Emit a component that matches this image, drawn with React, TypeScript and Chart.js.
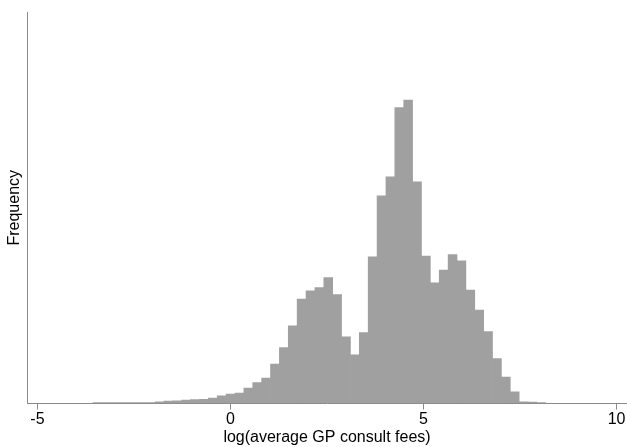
import React, { useEffect, useRef } from "react";
import { Chart, registerables } from "chart.js";

Chart.register(...registerables);

// Histogram bins (log of average GP consult fees)
const binStart = -3.563;
const binWidth = 0.23;
const frequency = [
  0.8, 0.8, 0.8, 0.8, 0.8, 0.8, 1.0, 1.7, 2.3, 2.6,
  3.3, 4.0, 4.2, 5.5, 7.7, 9.5, 10.5, 15.3, 21.0, 25.3,
  39.5, 56.0, 77.6, 104.3, 112.6, 116.0, 126.0, 109.0, 66.6, 48.7,
  71.0, 146.7, 207.7, 226.7, 296.0, 303.3, 221.7, 147.3, 120.7, 133.3,
  149.0, 142.7, 113.3, 93.3, 72.0, 45.0, 26.3, 11.7, 1.7, 1.3,
  1.0,
];
const xTicks = [-5, 0, 5, 10];
const xMin = -5.27;
const xMax = 10.27;
const yMax = 391.5;

const FONT = "'Liberation Sans', Arial, sans-serif";
const AXIS = "#8a8a8a";

export default function App() {
  const ref = useRef<HTMLCanvasElement | null>(null);

  useEffect(() => {
    document.body.style.margin = "0";
    const canvas = ref.current;
    if (!canvas) return;
    const points = frequency.map((f, i) => ({
      x: binStart + (i + 0.5) * binWidth,
      y: f,
    }));
    const chart = new Chart(canvas, {
      type: "bar",
      data: {
        datasets: [
          {
            data: points as any,
            backgroundColor: "#a0a0a0",
            borderWidth: 0,
            barPercentage: 1,
            categoryPercentage: 1,
          },
        ],
      },
      options: {
        responsive: false,
        animation: false,
        devicePixelRatio: 1,
        layout: { padding: { top: 12, right: 0, bottom: 0, left: 0 } },
        plugins: {
          legend: { display: false },
          tooltip: { enabled: false },
        },
        scales: {
          x: {
            type: "linear",
            min: xMin,
            max: xMax,
            offset: false,
            grid: {
              display: true,
              offset: false,
              drawOnChartArea: false,
              drawTicks: true,
              tickLength: 6,
              color: AXIS,
            },
            border: { display: true, color: AXIS, width: 1 },
            ticks: {
              color: "#000",
              padding: 0,
              maxRotation: 0,
              font: { family: FONT, size: 16 },
            },
            afterBuildTicks: (scale: any) => {
              scale.ticks = xTicks.map((v) => ({ value: v }));
            },
            afterFit: (scale: any) => {
              scale.height = 43.5;
            },
            title: {
              display: true,
              text: "log(average GP consult fees)",
              color: "#000",
              font: { family: FONT, size: 16 },
              padding: { top: 0, bottom: 0 },
            },
          },
          y: {
            min: 0,
            max: yMax,
            grid: {
              display: true,
              drawOnChartArea: false,
              drawTicks: false,
            },
            border: { display: true, color: AXIS, width: 1 },
            ticks: { display: false },
            afterFit: (scale: any) => {
              scale.width = 27;
            },
            title: {
              display: true,
              text: "Frequency",
              color: "#000",
              font: { family: FONT, size: 16 },
              padding: { top: 5, bottom: 0 },
            },
          },
        },
      },
    });
    return () => chart.destroy();
  }, []);

  return (
    <div style={{ position: "absolute", left: 0, top: 0, width: 627, height: 447 }}>
      <canvas ref={ref} width={627} height={447} style={{ display: "block" }} />
    </div>
  );
}
